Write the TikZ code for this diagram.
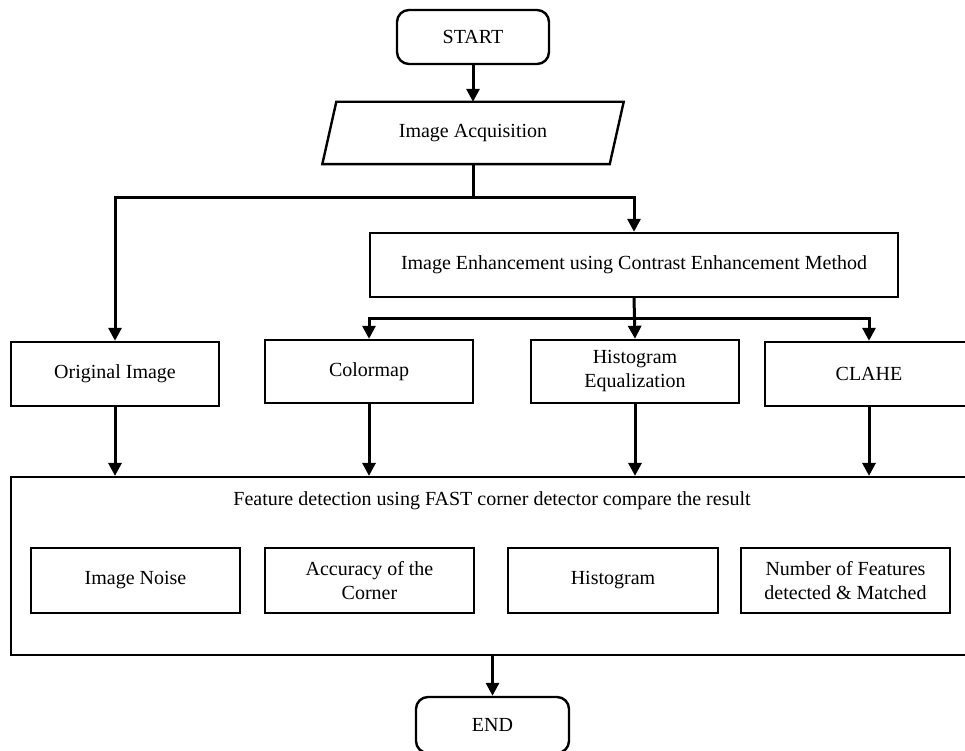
\documentclass[tikz,border=0pt]{standalone}
\usepackage{fontspec}
\setmainfont{Liberation Serif}
\usetikzlibrary{arrows.meta}
\begin{document}
\begin{tikzpicture}[x=1pt,y=-1pt,
  txt/.style={font=\fontsize{20}{24}\selectfont, align=center},
  box/.style={draw, line width=2.4pt, rectangle, minimum width=208pt, minimum height=64pt, inner sep=0pt, txt},
  term/.style={box, rounded corners=12pt},
  conn/.style={line width=3pt, -{Triangle[width=13pt,length=13pt]}},
  outer/.style={draw, line width=2.2pt, rectangle, inner sep=0pt},
  pgram/.style={line width=2.4pt, line join=miter},
]
\useasboundingbox (0,0) rectangle (965,751);
\clip (0,0) rectangle (965,751);

% nodes
\node[term, minimum width=152pt, minimum height=54pt] (start) at (473,37) {START};
\node[rectangle, minimum width=287pt, minimum height=62pt, inner sep=0pt, txt] (acq) at (473,133) {Image Acquisition};
\draw[pgram] ([xshift=7pt]acq.north west) -- ([xshift=7pt]acq.north east)
  -- ([xshift=-7pt]acq.south east) -- ([xshift=-7pt]acq.south west) -- cycle;
\node[box, minimum width=528pt] (enh) at (634,265) {Image Enhancement using Contrast Enhancement Method};
\node[box] (orig) at (115,374) {Original Image};
\node[box, minimum height=63pt] (cmap) at (369,371.5) {Colormap};
\node[box, minimum height=63pt] (heq) at (635,371.5) {Histogram\\Equalization};
\node[box] (clahe) at (869,374) {CLAHE};
\node[outer, minimum width=962pt, minimum height=178pt] (feat) at (492,566) {};
\node[txt, anchor=base] (ftitle) at (492,505) {Feature detection using FAST corner detector compare the result};
\node[box, minimum width=209pt, minimum height=65pt] (noise) at (135.5,580.5) {Image Noise};
\node[box, minimum width=209pt, minimum height=65pt] (acc) at (369.5,580.5) {Accuracy of the\\Corner};
\node[box, minimum width=210pt, minimum height=65pt] (hist) at (613,580.5) {Histogram};
\node[box, minimum width=209pt, minimum height=65pt] (num) at (845.5,580.5) {Number of Features\\detected \& Matched};
\node[term, minimum width=153pt, minimum height=56pt] (end) at (492.5,725) {END};

% junctions
\coordinate (j1) at (473,198);
\coordinate (k) at (634,318);

% connectors
\draw[conn] (start) -- (acq);
\draw[conn] (acq.south) -- (j1) -| (orig.north);
\draw[conn] (j1) -| (enh.north);
\draw[conn] (enh.south) -- (heq.north);
\draw[conn] (k) -| (cmap.north);
\draw[conn] (k) -| (clahe.north);
\draw[conn] (orig.south) -- (orig.south |- feat.north);
\draw[conn] (cmap.south) -- (cmap.south |- feat.north);
\draw[conn] (heq.south) -- (heq.south |- feat.north);
\draw[conn] (clahe.south) -- (clahe.south |- feat.north);
\draw[conn] (end.north |- feat.south) -- (end.north);
\end{tikzpicture}
\end{document}
